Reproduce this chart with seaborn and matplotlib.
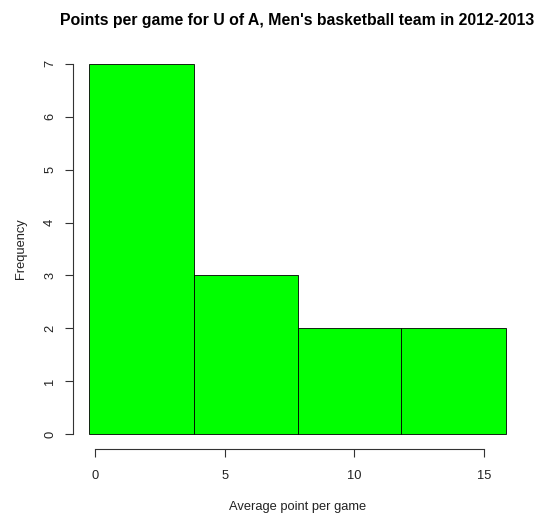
import numpy as np
import seaborn as sns
import matplotlib
matplotlib.use("Agg")
import matplotlib.pyplot as plt

# Histogram: bin edges and player counts per bin
bin_edges = [-0.23, 3.80, 7.82, 11.82, 15.84]
counts = [7, 3, 2, 2]
x_ticks = [0, 5, 10, 15]
y_ticks = [0, 1, 2, 3, 4, 5, 6, 7]

mids = [(bin_edges[i] + bin_edges[i + 1]) / 2 for i in range(len(counts))]

sns.set_style("white")
plt.rcParams["font.family"] = ["Liberation Sans", "DejaVu Sans"]
plt.rcParams["text.color"] = "black"
plt.rcParams["axes.labelcolor"] = "#222222"
plt.rcParams["xtick.color"] = "#222222"
plt.rcParams["ytick.color"] = "#222222"

fig = plt.figure(figsize=(5.37, 5.14), dpi=100)
ax = fig.add_axes([0.1356, 0.1265, 0.9724 - 0.1356, 0.9047 - 0.1265])

sns.histplot(x=mids, weights=counts, bins=bin_edges, color="#00FF00",
             alpha=1, edgecolor="black", linewidth=0.6, ax=ax)

# R style axes: 4% padding, detached axis lines
span = bin_edges[-1] - bin_edges[0]
ax.set_xlim(bin_edges[0] - 0.04 * span, bin_edges[-1] + 0.04 * span)
ax.set_ylim(-0.04 * 7, 7 * 1.04)
for s in ["top", "right"]:
    ax.spines[s].set_visible(False)
ax.spines["left"].set_bounds(0, 7)
ax.spines["bottom"].set_bounds(0, 15)
for s in ["left", "bottom"]:
    ax.spines[s].set_linewidth(0.8)
    ax.spines[s].set_color("#333333")

ax.set_xticks(x_ticks)
ax.set_yticks(y_ticks)
ax.set_yticklabels([str(v) for v in y_ticks], rotation=90, va="center")
ax.tick_params(axis="both", direction="out", length=6, width=0.8,
               color="#333333", labelsize=9.3)
ax.tick_params(axis="x", pad=9)
ax.tick_params(axis="y", pad=6)
ax.tick_params(left=True, bottom=True)

ax.set_xlabel("Average point per game", fontsize=9.3, labelpad=14)
ax.set_ylabel("Frequency", fontsize=9.3, labelpad=12)
ax.set_title("Points per game for U of A, Men's basketball team in 2012-2013",
             fontsize=11.4, fontweight="bold", pad=17, color="black")

fig.savefig("out.png", dpi=100)
